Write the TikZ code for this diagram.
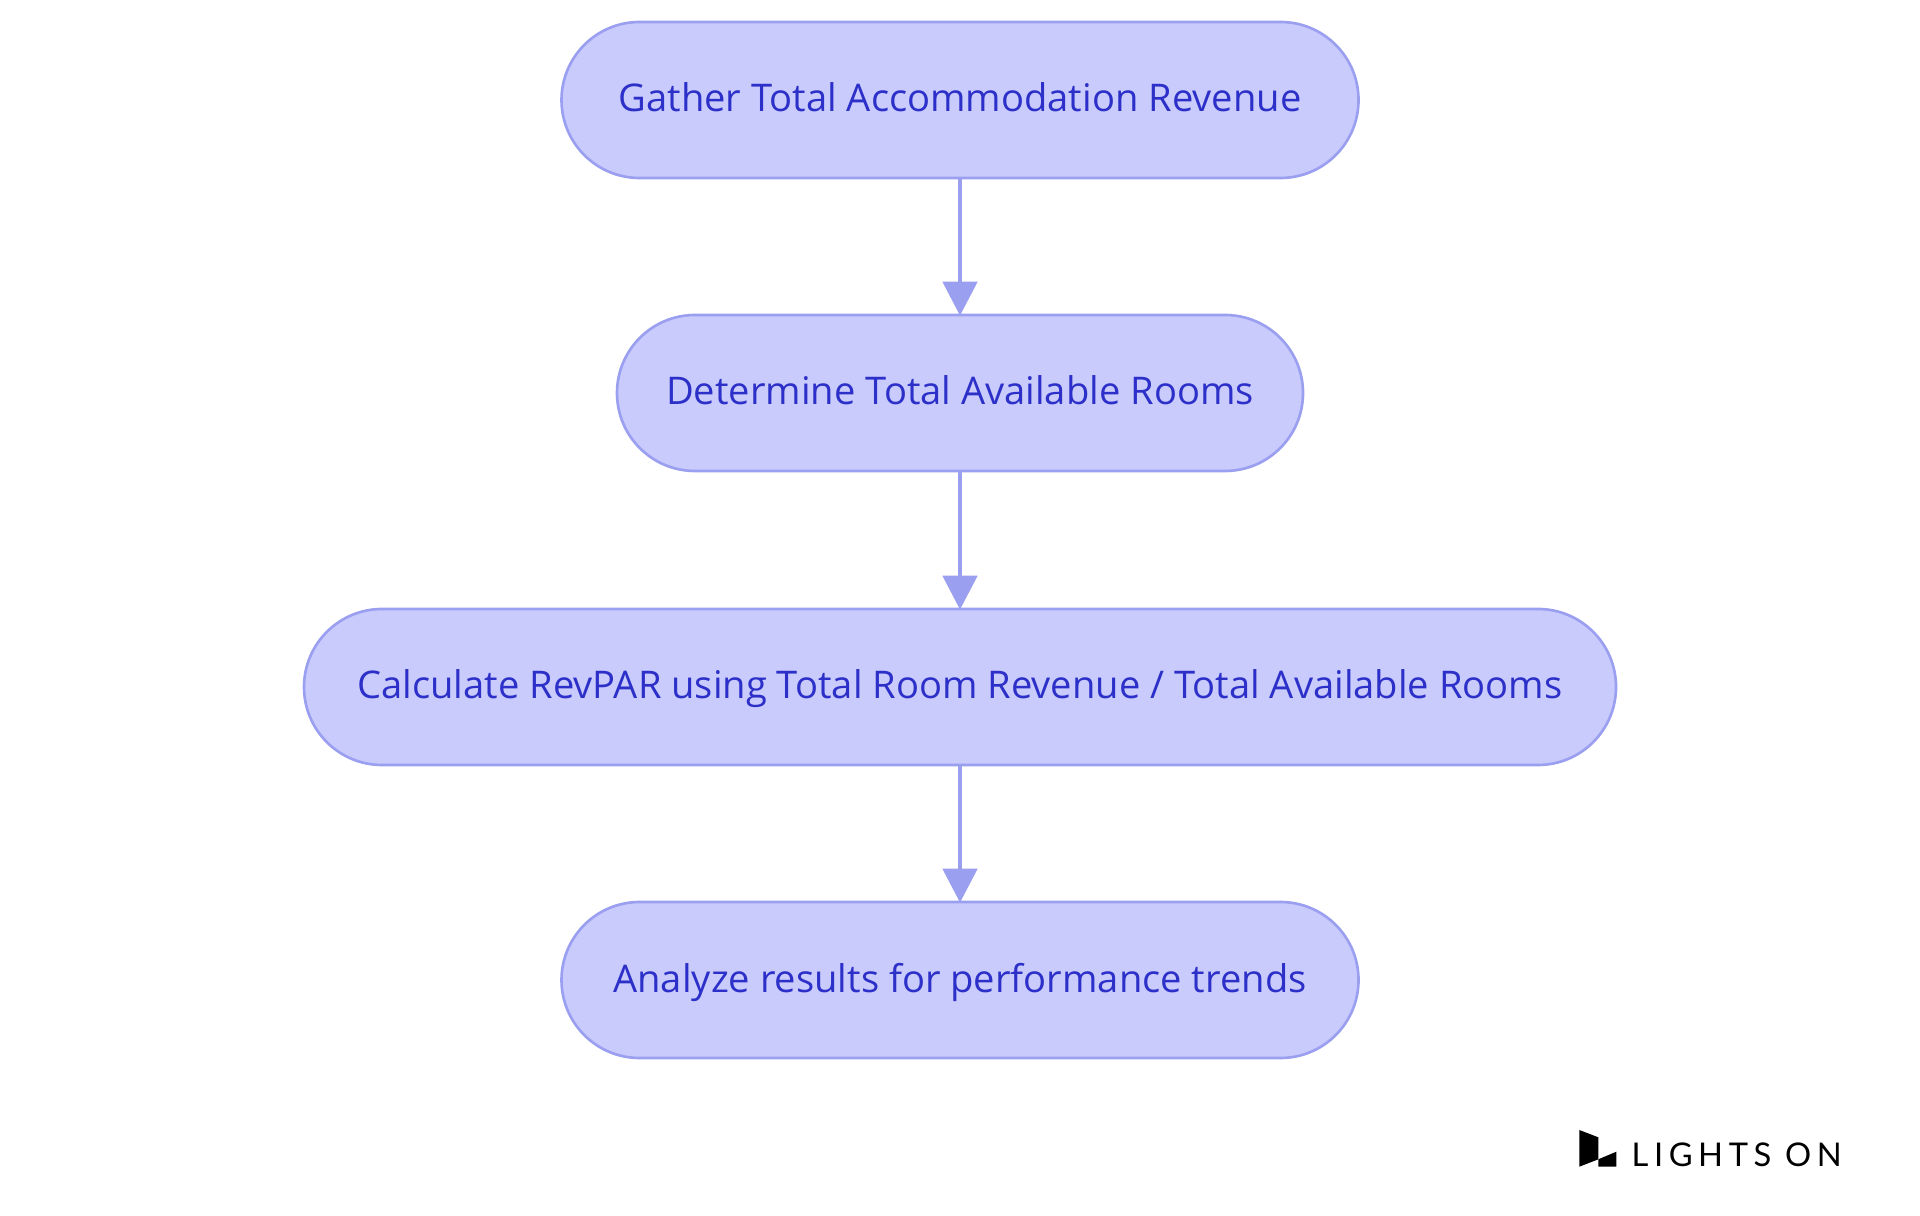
\documentclass[tikz,border=0pt]{standalone}
\usepackage{xcolor}
\usepackage{fontspec}
\setmainfont{Open Sans}
\newfontfamily\logofont[LetterSpace=17]{Lato}
\usetikzlibrary{calc,arrows.meta}
\definecolor{stepfill}{HTML}{C9CBFD}
\definecolor{stepline}{HTML}{9B9FF0}
\definecolor{steptext}{HTML}{2C30C8}
\definecolor{logoink}{HTML}{000000}
\tikzset{
  stepbox/.style={draw=stepline, fill=stepfill, line width=0.75pt, rectangle, rounded corners=0.78cm,
    minimum height=1.56cm, inner sep=0pt, text height=0.32cm, text depth=0.08cm,
    text=steptext, font=\fontsize{10.85}{13}\selectfont},
  flow/.style={draw=stepline, line width=1.4pt, shorten >=-0.02cm, -{Triangle[length=0.34cm,width=0.34cm]}},
  logolab/.style={text=logoink, inner sep=0pt, font=\logofont\fontsize{9.3}{11}\selectfont},
}

\begin{document}
\begin{tikzpicture}
  \useasboundingbox[fill=white] (0,0) rectangle (19.2,12.15);
  \node[stepbox, minimum width=7.97cm] (gather) at (9.6,11.15) {Gather Total Accommodation Revenue};
  \node[stepbox, minimum width=6.86cm] (rooms) at (9.6,8.22) {Determine Total Available Rooms};
  \node[stepbox, minimum width=13.12cm] (calc) at (9.6,5.28) {Calculate RevPAR using Total Room Revenue / Total Available Rooms};
  \node[stepbox, minimum width=7.97cm] (trends) at (9.6,2.35) {Analyze results for performance trends};
  \draw[flow] (gather) -- (rooms);
  \draw[flow] (rooms) -- (calc);
  \draw[flow] (calc) -- (trends);
  % logo
  \fill[logoink] (15.793,0.85) -- (15.983,0.777) -- (15.983,0.557) -- (15.793,0.483) -- cycle;
  \fill[logoink] (15.983,0.557) -- (16.163,0.633) -- (16.163,0.483) -- (15.983,0.483) -- cycle;
  \node[logolab, anchor=base west] (logo) at (16.31,0.483) {LIGHTS ON};
\end{tikzpicture}
\end{document}
